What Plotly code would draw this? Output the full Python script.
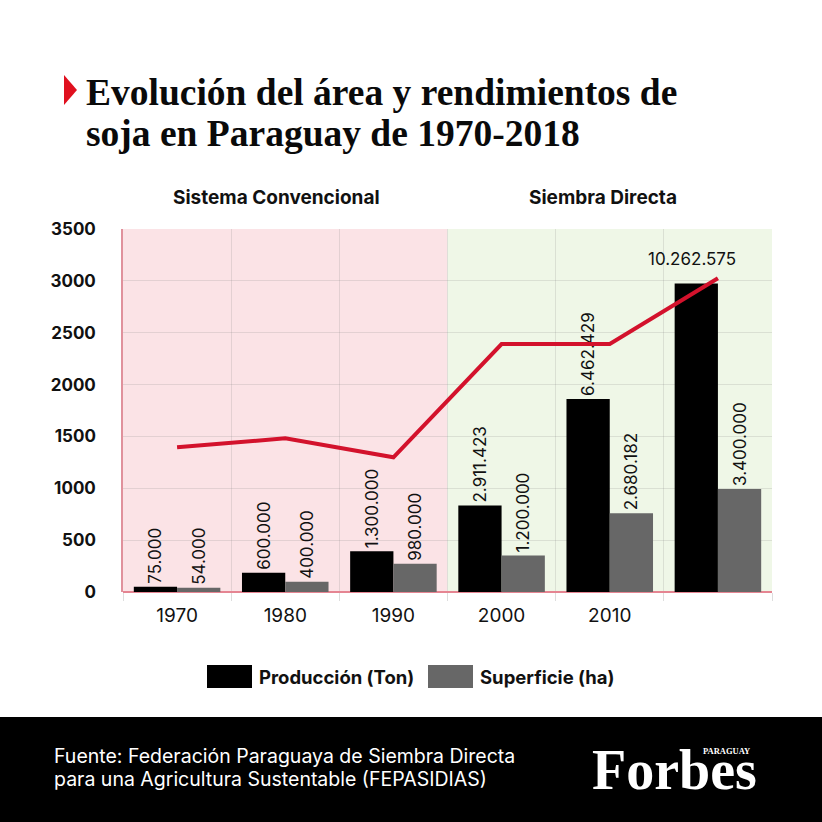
import plotly.graph_objects as go

# ---------------- data ----------------
years = ["1970", "1980", "1990", "2000", "2010", "2018"]
tick_labels = ["1970", "1980", "1990", "2000", "2010", ""]

# bar heights as drawn against the left axis
produccion_height = [50, 185, 393, 834, 1862, 2975]
superficie_height = [40, 98, 272, 352, 759, 994]

# values printed above the bars
produccion_ton = [75000, 600000, 1300000, 2911423, 6462429, 10262575]
superficie_ha = [54000, 400000, 980000, 1200000, 2680182, 3400000]

# red line (rendimiento)
rendimiento = [1395, 1482, 1299, 2391, 2391, 3025]

y_ticks = [0, 500, 1000, 1500, 2000, 2500, 3000, 3500]

title_lines = ["Evolución del área y rendimientos de", "soja en Paraguay de 1970-2018"]
footer_lines = ["Fuente: Federación Paraguaya de Siembra Directa",
                "para una Agricultura Sustentable (FEPASIDIAS)"]


def fmt(v):
    return f"{v:,}".replace(",", ".")


prod_text = [fmt(v) for v in produccion_ton]
sup_text = [fmt(v) for v in superficie_ha]
prod_text_bars = prod_text[:-1] + [""]  # last one is written horizontally

# ---------------- layout constants ----------------
W = H = 822
L, R, T, B = 123, 50, 229, 230
PW = W - L - R
PH = H - T - B


def px(x):
    return (x - L) / PW


def py(y):
    return (H - B - y) / PH


SANS = "Inter, 'Open Sans', sans-serif"
SERIF = "'Liberation Serif', 'DejaVu Serif', serif"
BLACK = "#000000"
GRAY = "#676767"
RED = "#d3122c"
TXT = "#111111"

fig = go.Figure()

fig.add_trace(go.Bar(
    x=years, y=produccion_height, name="Producción (Ton)",
    marker=dict(color=BLACK, line=dict(width=0)),
    text=prod_text_bars, textposition="outside", textangle=-90,
    constraintext="none",
    textfont=dict(family=SANS, size=17, color=TXT),
    cliponaxis=False, showlegend=False,
))
fig.add_trace(go.Bar(
    x=years, y=superficie_height, name="Superficie (ha)",
    marker=dict(color=GRAY, line=dict(width=0)),
    text=sup_text, textposition="outside", textangle=-90,
    constraintext="none",
    textfont=dict(family=SANS, size=17, color=TXT),
    cliponaxis=False, showlegend=False,
))
fig.add_trace(go.Scatter(
    x=years, y=rendimiento, mode="lines", name="Rendimiento",
    line=dict(color=RED, width=4), showlegend=False, cliponaxis=False,
))

# horizontal label for the last production bar
last = len(years) - 1
fig.add_annotation(
    x=last, y=produccion_height[last], xref="x", yref="y",
    text=prod_text[last], showarrow=False, xshift=-26, yshift=12,
    yanchor="bottom", font=dict(family=SANS, size=17, color=TXT),
)

shapes = [
    # period backgrounds
    dict(type="rect", xref="x", yref="paper", x0=-0.5, x1=2.5, y0=0, y1=1,
         fillcolor="#fbe3e6", line=dict(width=0), layer="below"),
    dict(type="rect", xref="x", yref="paper", x0=2.5, x1=5.5, y0=0, y1=1,
         fillcolor="#eff7e7", line=dict(width=0), layer="below"),
    # red title marker
    dict(type="path", xref="paper", yref="paper",
         path=f"M {px(64)},{py(75)} L {px(77)},{py(90)} L {px(64)},{py(105)} Z",
         fillcolor="#e0101f", line=dict(width=0), layer="above"),
    # footer band
    dict(type="rect", xref="paper", yref="paper", x0=px(-5), x1=px(830),
         y0=py(717), y1=py(830), fillcolor="#000000", line=dict(width=0),
         layer="above"),
    # legend swatches
    dict(type="rect", xref="paper", yref="paper", x0=px(207), x1=px(252),
         y0=py(665), y1=py(688), fillcolor=BLACK, line=dict(width=0)),
    dict(type="rect", xref="paper", yref="paper", x0=px(428), x1=px(473),
         y0=py(665), y1=py(688), fillcolor=GRAY, line=dict(width=0)),
]


def note(text, x, y, size, color=TXT, family=SANS, weight="normal",
         xanchor="left"):
    fig.add_annotation(text=text, x=px(x), y=py(y), xref="paper", yref="paper",
                       xanchor=xanchor, yanchor="middle", showarrow=False,
                       align="left",
                       font=dict(family=family, size=size, color=color,
                                 weight=weight))


# title
note(title_lines[0], 84, 92, 37.5, color="#0a0a0a", family=SERIF, weight="bold")
note(title_lines[1], 84, 134, 37.5, color="#0a0a0a", family=SERIF, weight="bold")

# period headers
note("Sistema Convencional", 276, 198, 19, weight="bold", xanchor="center")
note("Siembra Directa", 603, 198, 19, weight="bold", xanchor="center")

# legend labels
note("Producción (Ton)", 257, 677, 18.5, weight="bold")
note("Superficie (ha)", 478, 677, 18.5, weight="bold")

# footer texts
note(footer_lines[0], 52, 756, 19.5, color="#ffffff")
note(footer_lines[1], 52, 779, 19.5, color="#ffffff")
note("Forbes", 674, 770, 56, color="#ffffff", family=SERIF, weight="bold",
     xanchor="center")
note("PARAGUAY", 752, 751, 8.5, color="#ffffff", family=SERIF, weight="bold",
     xanchor="right")

fig.update_layout(
    width=W, height=H,
    margin=dict(l=L, r=R, t=T, b=B),
    paper_bgcolor="#ffffff", plot_bgcolor="#ffffff",
    barmode="group", bargap=0.2, bargroupgap=0,
    showlegend=False,
    shapes=shapes,
    xaxis=dict(
        type="category", categoryorder="array", categoryarray=years,
        tickmode="array", tickvals=years, ticktext=tick_labels,
        tickson="boundaries", showgrid=True, gridcolor="rgba(120,120,120,0.18)",
        gridwidth=1, ticks="outside", ticklen=8, tickcolor="rgba(120,120,120,0.25)",
        tickfont=dict(family=SANS, size=19, color=TXT),
        ticklabelstandoff=10, showline=False, zeroline=False,
        range=[-0.5, 5.5],
    ),
    yaxis=dict(
        range=[0, 3500], tickmode="array", tickvals=y_ticks,
        showgrid=True, gridcolor="rgba(120,120,120,0.18)", gridwidth=1,
        zeroline=True, zerolinecolor="#e58592", zerolinewidth=1.5,
        showline=True, linecolor="#e0919c", linewidth=1.5,
        tickfont=dict(family=SANS, size=17, color=TXT, weight="bold"),
        ticks="", ticklabelstandoff=22,
    ),
)

fig.write_html("out.html", config={"displayModeBar": False},
               post_script="document.body.style.margin='0';")
